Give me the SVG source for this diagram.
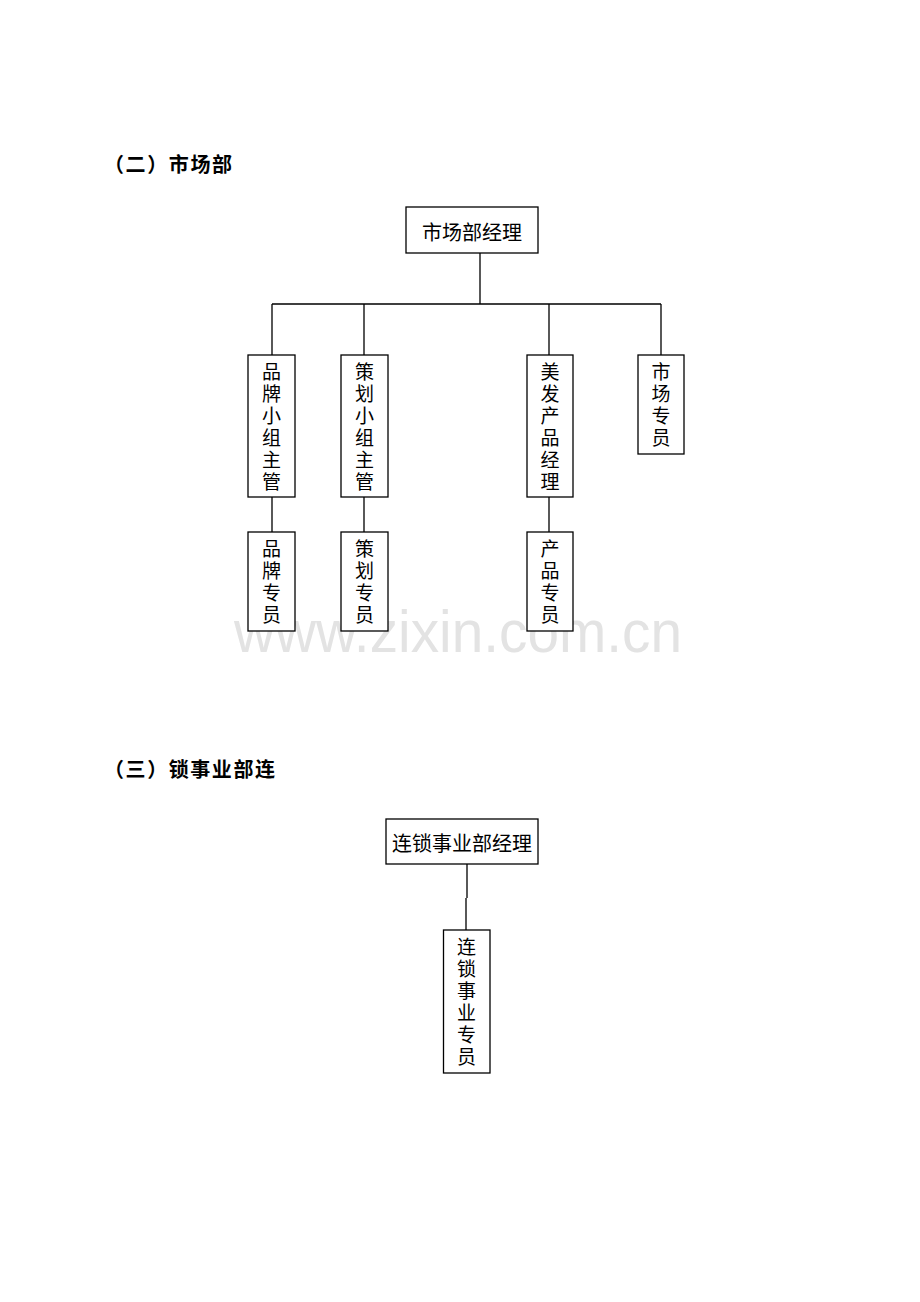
<svg xmlns="http://www.w3.org/2000/svg" width="920" height="1302" viewBox="0 0 920 1302">
<style>
.bg{fill:#ffffff}
.box{fill:#ffffff;stroke:#000000;stroke-width:1.3}
.ln{fill:none;stroke:#000000;stroke-width:1.3}
.t{font-family:"Noto Sans CJK SC","Noto Sans CJK JP",sans-serif;font-size:20px;fill:#000000;text-anchor:middle}
.v{font-family:"Noto Sans CJK SC","Noto Sans CJK JP",sans-serif;font-size:19px;fill:#000000;writing-mode:vertical-rl;letter-spacing:3px;text-anchor:start}
.h{font-family:"Noto Sans CJK SC","Noto Sans CJK JP",sans-serif;font-size:20px;font-weight:bold;fill:#000000}
.wm{font-family:"Liberation Sans",Arial,sans-serif;font-size:60px;fill:#e3e3e3}
</style>
<rect class="bg" x="0" y="0" width="920" height="1302"/>
<text class="wm" x="234" y="652" textLength="448" lengthAdjust="spacingAndGlyphs">www.zixin.com.cn</text>
<g id="heading1"><text class="h" x="104" y="172" textLength="128">（二）市场部</text></g>
<g id="heading2"><text class="h" x="104" y="777" textLength="171">（三）锁事业部连</text></g>
<g id="connectors">
<path class="ln" d="M480 253 V304 M272 304 H661 M272 304 V355 M364 304 V355 M549 304 V355 M661 304 V355"/>
<path class="ln" d="M272 497 V532 M364 497 V532 M549 497 V532"/>
<path class="ln" d="M467 864 V898 M466 898 V930"/>
</g>
<g id="n_mgr"><rect class="box" x="406" y="207" width="132" height="46"/><text class="t" x="472" y="240">市场部经理</text></g>
<g id="n_brand"><rect class="box" x="248" y="355" width="47" height="142"/><text class="v" x="271.5" y="362">品牌小组主管</text></g>
<g id="n_plan"><rect class="box" x="341" y="355" width="47" height="142"/><text class="v" x="364.5" y="362">策划小组主管</text></g>
<g id="n_hair"><rect class="box" x="527" y="355" width="46" height="142"/><text class="v" x="550" y="362">美发产品经理</text></g>
<g id="n_market"><rect class="box" x="638" y="355" width="46" height="99"/><text class="v" x="661" y="362">市场专员</text></g>
<g id="n_brand_s"><rect class="box" x="248" y="532" width="47" height="99"/><text class="v" x="271.5" y="539">品牌专员</text></g>
<g id="n_plan_s"><rect class="box" x="341" y="532" width="47" height="99"/><text class="v" x="364.5" y="539">策划专员</text></g>
<g id="n_prod_s"><rect class="box" x="527" y="532" width="46" height="99"/><text class="v" x="550" y="539">产品专员</text></g>
<g id="n_chain_mgr"><rect class="box" x="386" y="819" width="152" height="45"/><text class="t" x="462" y="851">连锁事业部经理</text></g>
<g id="n_chain_s"><rect class="box" x="443.5" y="930" width="46.5" height="143"/><text class="v" x="466.5" y="937">连锁事业专员</text></g>
</svg>
